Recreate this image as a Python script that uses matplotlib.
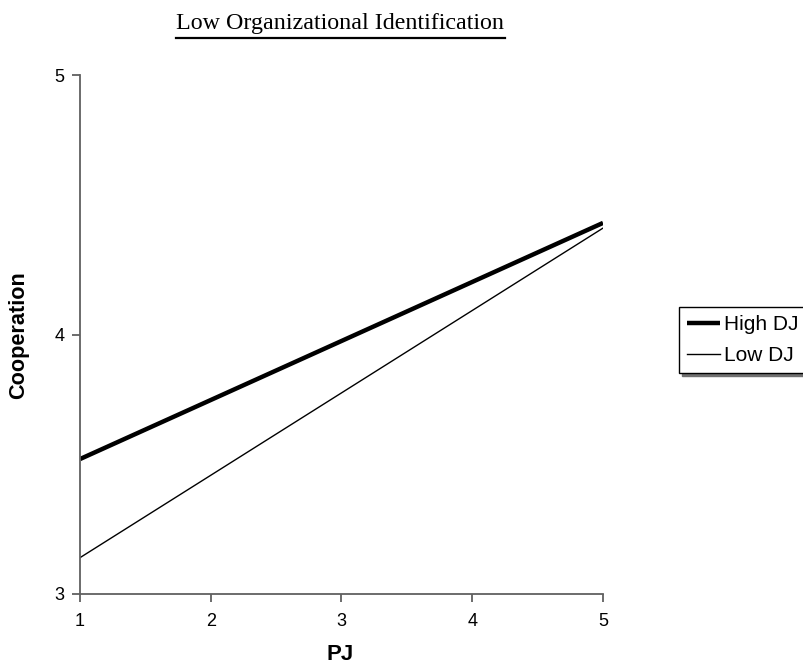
import matplotlib
matplotlib.use("Agg")
import matplotlib.pyplot as plt
from matplotlib.lines import Line2D

pj = [1, 5]
high_dj = [3.52, 4.43]
low_dj = [3.14, 4.41]
xticks = [1, 2, 3, 4, 5]
yticks = [3, 4, 5]

W, H = 804, 667
fig = plt.figure(figsize=(W/100, H/100), dpi=100)
ax = fig.add_axes([80/W, 1-594/H, (603-80)/W, (594-75)/H])

ax.plot(pj, high_dj, color="black", lw=3.2, label="High DJ", solid_capstyle="butt")
ax.plot(pj, low_dj, color="black", lw=1.0, label="Low DJ")

ax.set_xlim(1, 5)
ax.set_ylim(3, 5)
ax.set_xticks(xticks)
ax.set_yticks(yticks)
for s in ["top", "right"]:
    ax.spines[s].set_visible(False)
for s in ["left", "bottom"]:
    ax.spines[s].set_color("#606060")
    ax.spines[s].set_linewidth(1.3)
ax.tick_params(axis="both", direction="out", length=6, width=1.3, color="#606060",
               labelsize=13, pad=5)
for lab in ax.get_xticklabels() + ax.get_yticklabels():
    lab.set_fontfamily("Liberation Sans")
ax.tick_params(axis="x", pad=8)

fig.text(340/W, 1-654/H, "PJ", ha="center", va="center", fontsize=16,
         fontweight="bold", family="Liberation Sans")
fig.text(19/W, 1-335/H, "Cooperation", ha="center", va="center", rotation=90,
         fontsize=15.6, fontweight="bold", family="Liberation Sans")

fig.text(340.5/W, 1-29/H, "Low Organizational Identification", ha="center", va="baseline",
         fontsize=17.3, family="Liberation Serif")
fig.add_artist(Line2D([176/W, 505/W], [1-38/H, 1-38/H], color="black", lw=1.6,
                      transform=fig.transFigure))

leg = ax.legend(loc="upper left", bbox_to_anchor=(679/W, 1-307/H),
                bbox_transform=fig.transFigure, frameon=True, fancybox=False,
                edgecolor="black", shadow={"color": "#707070", "alpha": 1},
                prop={"family": "Liberation Sans", "size": 15},
                handlelength=1.55, handletextpad=0.2, borderpad=0.4, labelspacing=0.55,
                borderaxespad=0)
leg.get_frame().set_linewidth(1.0)

fig.savefig("out.png", dpi=100)
